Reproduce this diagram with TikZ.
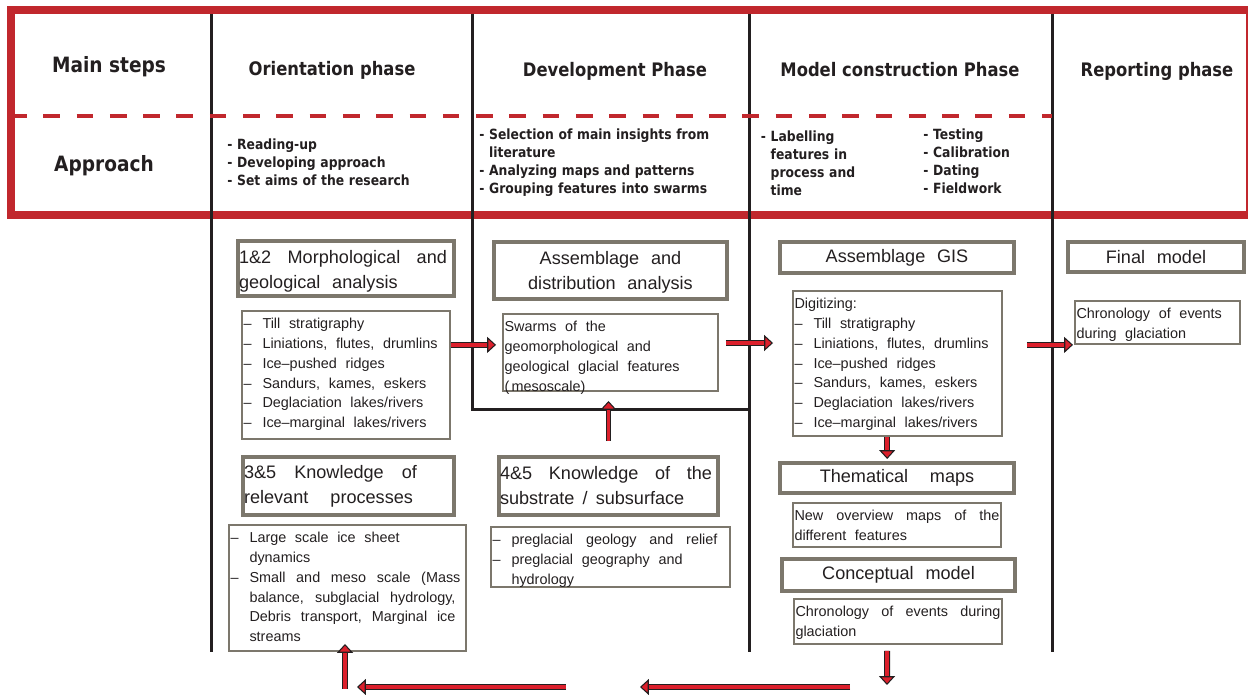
\documentclass[tikz,border=0pt]{standalone}
\usepackage{fontspec}
\setmainfont{Liberation Sans}
\newfontfamily\headfont[FakeStretch=0.88]{DejaVu Sans}
\usetikzlibrary{arrows.meta, positioning}

\definecolor{frameRed}{RGB}{193,39,45}
\definecolor{arrowRed}{RGB}{220,32,44}
\definecolor{boxGrey}{RGB}{124,119,108}
\definecolor{inkBlack}{RGB}{35,31,32}

\newcommand{\widespaces}[1]{\spaceskip=#1 plus 0.8em minus 0.05em\relax}
\newcommand{\itm}{\makebox[0.38cm][l]{–}}
\newcommand{\ind}{\hspace*{0.38cm}}
\newcommand{\spread}[2]{\makebox[#1][s]{#2}}

\tikzset{
  rowhead/.style={anchor=base, text=inkBlack, font=\headfont\bfseries\fontsize{12}{14}\selectfont},
  phase/.style={anchor=base, text=inkBlack, font=\headfont\bfseries\fontsize{10.6}{13}\selectfont},
  approach/.style={anchor=base west, inner sep=0pt, text width=5cm, align=left, text=inkBlack, font=\headfont\bfseries\fontsize{8}{10.2}\selectfont},
  stage/.style={draw=boxGrey, line width=0.08cm, inner xsep=0.02cm, inner ysep=0pt, text=inkBlack,
    font=\fontsize{10.3}{14.2}\selectfont, execute at begin node={\widespaces{0.65em}}},
  note/.style={draw=boxGrey, line width=0.04cm, inner xsep=0.03cm, inner ysep=0pt, text height=0.35cm, text=inkBlack,
    font=\fontsize{8.2}{11.3}\selectfont, execute at begin node={\widespaces{0.6em}}},
  rule/.style={draw=inkBlack, line width=0.06cm},
  fatarrow/.style={draw=inkBlack, double=arrowRed, double distance=2.2pt, line width=0.6pt,
    -{Triangle[length=5pt, width=9pt, fill=arrowRed, color=inkBlack, line width=0.6pt]}}
}

\begin{document}
\begin{tikzpicture}[x=0.02cm, y=-0.02cm]
\useasboundingbox (0,0) rectangle (1248,695);

\draw[frameRed, line width=0.16cm] (11,10) rectangle (1250,215);
\draw[rule] (211,14) -- (211,652);
\draw[rule] (472,14) -- (472,410) -- (749,410);
\draw[rule] (749,14) -- (749,652);
\draw[rule] (1052,14) -- (1052,652);
\draw[frameRed, line width=0.08cm, dash pattern=on 0.333cm off 0.333cm, dash phase=0.1cm] (15,116) -- (1052,116);

\node[rowhead]	(steps)		at (109,73)		{Main steps};
\node[rowhead]	(appr)		at (104,172)	{Approach};
\node[phase]	(orient)	at (332,76)		{Orientation phase};
\node[phase]	(devel)		at (615,77)		{Development Phase};
\node[phase]	(model)		at (900,77)		{Model construction Phase};
\node[phase]	(report)	at (1157,77)	{Reporting phase};

\node[approach]	(orientap)	at (227,150)	{- Reading-up\\- Developing approach\\- Set aims of the research};
\node[approach]	(develap)	at (479,140)	{- Selection of main insights from\\\phantom{- }literature\\- Analyzing maps and patterns\\- Grouping features into swarms};
\node[approach]	(modelap)	at (760.5,141.7)	{- Labelling\\\phantom{- }features in\\\phantom{- }process and\\\phantom{- }time};
\node[approach]	(testap)	at (923,140)	{- Testing\\- Calibration\\- Dating\\- Fieldwork};

\node[stage, minimum width=4.32cm, minimum height=1.10cm, text width=4.28cm, text height=0.45cm, text depth=0.65cm]	(morph)	at (346,268.5)	{\spread{4.16cm}{1\&2 Morphological and}\\geological analysis};
\node[stage, minimum width=4.66cm, minimum height=1.14cm, text width=4.62cm, text height=0.45cm, text depth=0.69cm]	(assemb)	at (610.5,270.5)	{\centering Assemblage and\\distribution analysis\par};
\node[stage, minimum width=4.68cm, minimum height=0.62cm, text width=4.64cm]	(gis)		at (897,257.5)	{\centering Assemblage GIS\par};
\node[stage, minimum width=3.52cm, minimum height=0.60cm, text width=3.48cm]	(final)		at (1156,257)	{\centering Final model\par};
\node[stage, minimum width=4.22cm, minimum height=1.16cm, text width=4.18cm]	(procs)		at (348.5,486)	{\spread{3.46cm}{3\&5 Knowledge of}\\\spread{3.38cm}{relevant processes}};
\node[stage, minimum width=4.38cm, minimum height=1.16cm, text width=4.34cm]	(subst)		at (608.5,486)	{\spread{4.24cm}{4\&5 Knowledge of the}\\substrate\hspace{0.45em}/\hspace{0.45em}subsurface};
\node[stage, minimum width=4.68cm, minimum height=0.60cm, text width=4.64cm]	(themat)	at (897,478)	{\centering Thematical\hspace{1.2em}maps\par};
\node[stage, minimum width=4.66cm, minimum height=0.64cm, text width=4.62cm]	(concept)	at (898.5,575)	{\centering Conceptual model\par};

\node[note, minimum width=4.16cm, minimum height=2.56cm, text width=4.10cm, text depth=2.21cm]	(morphlist)	at (346,375)	{\itm Till stratigraphy\\\itm Liniations, flutes, drumlins\\\itm Ice–pushed ridges\\\itm Sandurs, kames, eskers\\\itm Deglaciation lakes/rivers\\\itm Ice–marginal lakes/rivers};
\node[note, minimum width=4.30cm, minimum height=1.54cm, text width=4.24cm, text depth=1.19cm]	(swarms)	at (610.5,352.5)	{Swarms of the\\geomorphological and\\geological glacial features\\(\,mesoscale)};
\node[note, minimum width=4.18cm, minimum height=2.90cm, text width=4.12cm, text depth=2.55cm]	(digit)		at (897.5,363.5)	{Digitizing:\\\itm Till stratigraphy\\\itm Liniations, flutes, drumlins\\\itm Ice–pushed ridges\\\itm Sandurs, kames, eskers\\\itm Deglaciation lakes/rivers\\\itm Ice–marginal lakes/rivers};
\node[note, minimum width=3.30cm, minimum height=0.86cm, text width=3.24cm, text depth=0.51cm]	(chrono)	at (1157.5,322.5)	{Chronology of events\\during glaciation};
\node[note, minimum width=4.74cm, minimum height=2.52cm, text width=4.68cm, text depth=2.17cm]	(proclist)	at (347.5,588)	{\itm Large scale ice sheet\\\ind dynamics\\\itm\spread{4.22cm}{Small and meso scale (Mass}\\\ind\spread{4.12cm}{balance, subglacial hydrology,}\\\ind\spread{4.12cm}{Debris transport, Marginal ice}\\\ind streams};
\node[note, minimum width=4.78cm, minimum height=1.20cm, text width=4.72cm, text depth=0.85cm]	(substlist)	at (610.5,557)	{\itm\spread{4.12cm}{preglacial geology and relief}\\\itm preglacial geography and\\\ind hydrology};
\node[note, minimum width=4.16cm, minimum height=0.88cm, text width=4.10cm, text depth=0.53cm]	(overview)	at (897,525)	{\spread{4.10cm}{New overview maps of the}\\different features};
\node[note, minimum width=4.16cm, minimum height=0.90cm, text width=4.10cm, text depth=0.55cm]	(chronlist)	at (898,621.5)	{\spread{4.10cm}{Chronology of events during}\\glaciation};

\coordinate (turn) at (887,685);
\coordinate (ret1) at (850,687);
\coordinate (ret2) at (640,687);
\coordinate (ret3) at (566,687);
\coordinate (ret4) at (357,687);
\coordinate (ret5) at (345,689);

\draw[fatarrow, shorten >=0.12cm]					(morphlist.16)	-- (morphlist.16 -| swarms.west);
\draw[fatarrow, shorten <=0.14cm, shorten >=0.38cm]	(swarms.5)		-- (swarms.5 -| digit.west);
\draw[fatarrow, shorten <=0.48cm, shorten >=0.02cm]	(digit.10)		-- (digit.10 -| chrono.west);
\draw[fatarrow, shorten <=0.28cm, shorten >=0.18cm]	(subst.north)	-- (subst.north |- swarms.south);
\draw[fatarrow, shorten >=0.04cm]					(digit.-98)		-- (digit.-98 |- themat.north);
\draw[fatarrow, shorten <=0.12cm]					(chronlist.-115)	-- (turn);
\draw[fatarrow]										(ret1)			-- (ret2);
\draw[fatarrow]										(ret3)			-- (ret4);
\draw[fatarrow, shorten >=-0.16cm]					(ret5)			-- (ret5 |- proclist.south);

\end{tikzpicture}
\end{document}
